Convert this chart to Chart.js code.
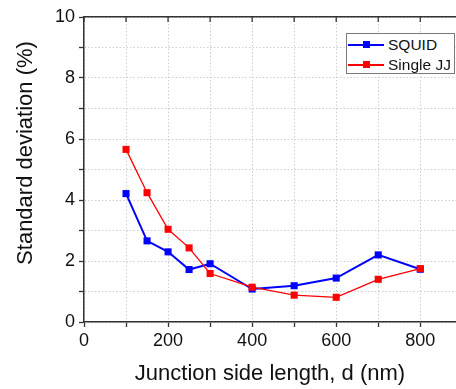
<!DOCTYPE html>
<html>
<head>
<meta charset="utf-8">
<script src="https://cdn.jsdelivr.net/npm/chart.js@4.4.1/dist/chart.umd.min.js"></script>
<style>
  body { margin: 0; background: #fff; font-family: "Liberation Sans", Arial, sans-serif; }
  #wrap { position: relative; width: 456px; height: 389px; }
  #legend { position: absolute; left: 346px; top: 33px; width: 109px; height: 41px;
            border: 1px solid #7a7a7a; background: #fff; box-sizing: border-box; }
  .row { position: absolute; left: 1px; height: 20px; display: flex; align-items: center;
         font-size: 15.5px; color: #111; white-space: nowrap; }
  .mark { position: relative; width: 36px; height: 2px; margin-right: 4px; }
  .mark i { position: absolute; left: 15px; top: -3px; width: 7px; height: 7px; }
</style>
</head>
<body>
<div id="wrap">
  <canvas id="chart" width="456" height="389"></canvas>
  <div id="legend"></div>
</div>
<script>
const lengths = [100, 150, 200, 250, 300, 400, 500, 600, 700, 800];
const squid = [4.21, 2.66, 2.30, 1.72, 1.91, 1.08, 1.19, 1.44, 2.20, 1.73];
const singleJJ = [5.66, 4.24, 3.04, 2.43, 1.59, 1.14, 0.88, 0.81, 1.40, 1.75];
const seriesNames = ['SQUID', 'Single JJ'];
const seriesColors = ['#0000ff', '#ff0000'];
const xLabels = [0, 200, 400, 600, 800];
const yLabels = [0, 2, 4, 6, 8, 10];

const axisColor = '#333333';
const gridColor = '#cfcfcf';
const font = '"Liberation Sans", Arial, sans-serif';

// legend box (html, drawn over the canvas)
const legend = document.getElementById('legend');
seriesNames.forEach((name, i) => {
  const row = document.createElement('div');
  row.className = 'row';
  row.style.top = (i * 19.5 + 1) + 'px';
  row.innerHTML = '<span class="mark" style="background:' + seriesColors[i] +
    '"><i style="background:' + seriesColors[i] + '"></i></span>' + name;
  legend.appendChild(row);
});

const frame = {
  id: 'frame',
  afterDraw(chart) {
    const { ctx, chartArea, scales } = chart;
    ctx.save();
    // inward ticks on the top edge
    ctx.strokeStyle = axisColor;
    ctx.lineWidth = 1.3;
    scales.x.ticks.forEach(t => {
      const px = scales.x.getPixelForValue(t.value);
      ctx.beginPath();
      ctx.moveTo(px, chartArea.top);
      ctx.lineTo(px, chartArea.top + 5);
      ctx.stroke();
    });
    // y title
    ctx.translate(26, 153);
    ctx.rotate(-Math.PI / 2);
    ctx.fillStyle = '#111';
    ctx.font = '22px ' + font;
    ctx.textAlign = 'center';
    ctx.textBaseline = 'middle';
    ctx.fillText('Standard deviation (%)', 0, 0);
    ctx.restore();
  }
};

new Chart(document.getElementById('chart'), {
  type: 'line',
  data: {
    datasets: [
      {
        label: seriesNames[0],
        data: lengths.map((x, i) => ({ x, y: squid[i] })),
        borderColor: seriesColors[0], backgroundColor: seriesColors[0],
        borderWidth: 2, pointStyle: 'rect', pointRadius: 5, pointBorderWidth: 0,
        tension: 0, order: 1
      },
      {
        label: seriesNames[1],
        data: lengths.map((x, i) => ({ x, y: singleJJ[i] })),
        borderColor: seriesColors[1], backgroundColor: seriesColors[1],
        borderWidth: 1.3, pointStyle: 'rect', pointRadius: 5, pointBorderWidth: 0,
        tension: 0, order: 0
      }
    ]
  },
  options: {
    responsive: false,
    animation: false,
    layout: { padding: 0, autoPadding: false },
    plugins: { legend: { display: false }, tooltip: { enabled: false } },
    scales: {
      x: {
        type: 'linear', position: 'bottom', min: 0, max: 885,
        afterFit: s => { s.height = 67; s.paddingLeft = 0; s.paddingRight = 0; },
        ticks: {
          stepSize: 100, includeBounds: false, autoSkip: false, maxRotation: 0, padding: 3,
          color: '#111', font: { family: font, size: 18 },
          callback: v => xLabels.includes(v) ? String(v) : ''
        },
        grid: { color: gridColor, tickColor: axisColor, tickLength: 5, tickWidth: 1.3 },
        border: { color: axisColor, width: 1.5, dash: [1.5, 2] },
        title: {
          display: true, text: 'Junction side length, d (nm)',
          color: '#111', font: { family: font, size: 22 }, padding: { top: 0, bottom: 2 }
        }
      },
      x2: {
        type: 'linear', position: 'top', min: 0, max: 885,
        afterFit: s => { s.height = 17; s.paddingLeft = 0; s.paddingRight = 0; },
        ticks: { display: false },
        grid: { drawOnChartArea: false, drawTicks: false },
        border: { color: axisColor, width: 1.5 }
      },
      y: {
        min: 0, max: 10,
        afterFit: s => { s.width = 84; },
        ticks: {
          stepSize: 1, autoSkip: false, padding: 4,
          color: '#111', font: { family: font, size: 18 },
          callback: v => yLabels.includes(v) ? String(v) : ''
        },
        grid: { color: gridColor, tickColor: axisColor, tickLength: 5, tickWidth: 1.3 },
        border: { color: axisColor, width: 1.5, dash: [1.5, 2] }
      }
    }
  },
  plugins: [frame]
});
</script>
</body>
</html>
